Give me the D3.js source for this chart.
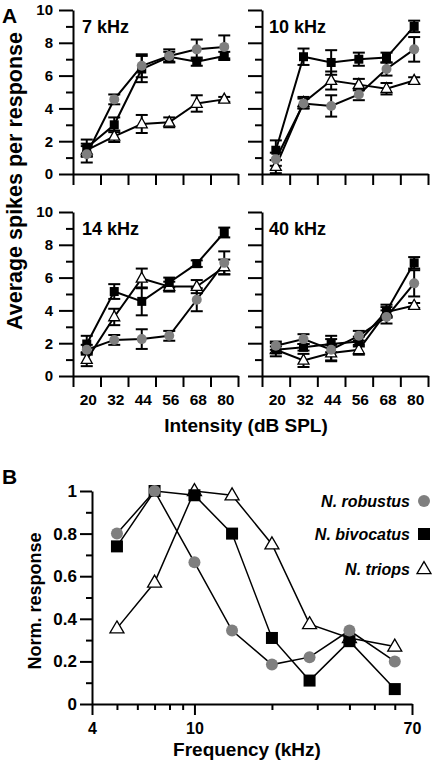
<!DOCTYPE html>
<html>
<head>
<meta charset="utf-8">
<script src="https://cdn.jsdelivr.net/npm/d3@7"></script>
<style>
  html, body { margin: 0; padding: 0; background: #fff; }
  svg { display: block; }
  text { font-family: "Liberation Sans", Arial, sans-serif; font-weight: bold; fill: #000; }
</style>
</head>
<body>
<script>
// ---------- DATA: Panel A ----------
const panelTitles = ["7 kHz", "10 kHz", "14 kHz", "40 kHz"];
const intensities = [20, 32, 44, 56, 68, 80];
const intensityBounds = [14, 26, 38, 50, 62, 74, 86];
const yTicksA = [0, 2, 4, 6, 8, 10];
const yMinorA = [1, 3, 5, 7, 9];

// per panel: 7, 10, 14, 40 kHz
const robustusMean = [
  [1.2, 4.55, 6.6, 7.2, 7.6, 7.75],
  [0.9, 4.3, 4.15, 4.85, 6.4, 7.6],
  [1.6, 2.2, 2.25, 2.45, 4.65, 6.9],
  [1.85, 2.25, 1.6, 2.45, 3.6, 5.65]
];
const robustusErr = [
  [0.5, 0.3, 0.7, 0.4, 0.6, 0.7],
  [0.4, 0.3, 0.65, 0.35, 0.4, 0.75],
  [0.3, 0.3, 0.6, 0.3, 0.7, 0.7],
  [0.25, 0.3, 0.65, 0.3, 0.4, 0.8]
];
const bivocatusMean = [
  [1.6, 3.0, 6.4, 7.15, 6.85, 7.2],
  [1.45, 7.15, 6.8, 7.0, 7.1, 9.0],
  [1.95, 5.15, 4.55, 5.7, 6.85, 8.75],
  [1.6, 1.75, 1.95, 2.1, 3.95, 6.9]
];
const bivocatusErr = [
  [0.5, 0.45, 0.8, 0.3, 0.25, 0.25],
  [0.6, 0.5, 0.75, 0.4, 0.3, 0.35],
  [0.5, 0.45, 0.85, 0.3, 0.2, 0.3],
  [0.4, 0.2, 0.5, 0.3, 0.4, 0.35]
];
const triopsMean = [
  [1.45, 2.3, 3.05, 3.15, 4.3, 4.55],
  [0.45, 4.35, 5.7, 5.45, 5.2, 5.7],
  [1.0, 3.6, 5.95, 5.45, 5.45, 6.65],
  [1.6, 0.95, 1.4, 1.6, 3.9, 4.3]
];
const triopsErr = [
  [0.4, 0.35, 0.55, 0.3, 0.5, 0.15],
  [0.4, 0.35, 0.55, 0.35, 0.35, 0.2],
  [0.4, 0.5, 0.6, 0.3, 0.4, 0.45],
  [0.2, 0.4, 0.5, 0.3, 0.3, 0.15]
];

// ---------- DATA: Panel B ----------
const frequencies = [5, 7, 10, 14, 20, 28, 40, 60];
const robustusNorm = [0.80, 1.0, 0.665, 0.345, 0.185, 0.22, 0.345, 0.20];
const bivocatusNorm = [0.74, 1.0, 0.98, 0.80, 0.31, 0.11, 0.295, 0.07];
const triopsNorm = [0.355, 0.57, 1.0, 0.98, 0.75, 0.375, 0.31, 0.27];
const speciesNames = ["N. robustus", "N. bivocatus", "N. triops"];
const yTicksB = [0, 0.2, 0.4, 0.6, 0.8, 1];
const yMinorB = [0.1, 0.3, 0.5, 0.7, 0.9];
const xMajorB = [4, 10, 70];
const xMinorB = [5, 6, 7, 8, 9, 20, 30, 40, 50, 60];

// ---------- DRAWING ----------
const W = 434, H = 762;
const GRAY = "#7f7f7f";
const svg = d3.select("body").append("svg").attr("width", W).attr("height", H);

function triPath(w, h) {
  return `M0,${-h * 0.62}L${w / 2},${h * 0.38}L${-w / 2},${h * 0.38}Z`;
}
function drawMarker(g, kind, cx, cy, big) {
  if (kind === "circle") {
    g.append("circle").attr("cx", cx).attr("cy", cy).attr("r", big ? 6 : 5).attr("fill", GRAY);
  } else if (kind === "square") {
    const s = big ? 12 : 9;
    g.append("rect").attr("x", cx - s / 2).attr("y", cy - s / 2).attr("width", s).attr("height", s).attr("fill", "#000");
  } else {
    const w = big ? 14 : 11, h = big ? 12 : 10;
    g.append("path").attr("d", triPath(w, h)).attr("transform", `translate(${cx},${cy})`)
      .attr("fill", "#fff").attr("stroke", "#000").attr("stroke-width", 1.3);
  }
}
function styleAxis(g, width) {
  g.selectAll("path.domain").attr("stroke", "#000").attr("stroke-width", width);
  g.selectAll(".tick line").attr("stroke", "#000").attr("stroke-width", width);
  g.selectAll("text").attr("font-family", '"Liberation Sans", Arial, sans-serif').attr("font-weight", "bold").attr("fill", "#000");
}

const panelBoxes = [
  { x0: 73, x1: 238, y0: 174, y1: 10 },
  { x0: 262, x1: 428, y0: 174, y1: 10 },
  { x0: 73, x1: 238, y0: 376, y1: 212 },
  { x0: 262, x1: 428, y0: 376, y1: 212 }
];

panelBoxes.forEach((b, i) => {
  const x = d3.scaleLinear().domain([14, 86]).range([b.x0, b.x1]);
  const y = d3.scaleLinear().domain([0, 10]).range([b.y0, b.y1]);
  const leftCol = (i % 2 === 0), bottomRow = (i >= 2);
  const g = svg.append("g");

  // y axis major
  const ya = g.append("g").attr("transform", `translate(${b.x0},0)`)
    .call(d3.axisLeft(y).tickValues(yTicksA).tickSize(14).tickSizeOuter(0).tickPadding(6)
      .tickFormat(leftCol ? d3.format("d") : ""));
  styleAxis(ya, 2);
  ya.selectAll("text").attr("font-size", 15);
  const ym = g.append("g").attr("transform", `translate(${b.x0},0)`)
    .call(d3.axisLeft(y).tickValues(yMinorA).tickSize(7).tickFormat(""));
  ym.select("path.domain").remove();
  styleAxis(ym, 2);

  // x axis
  const xa = g.append("g").attr("transform", `translate(0,${b.y0})`)
    .call(d3.axisBottom(x).tickValues(intensityBounds).tickSize(11).tickSizeOuter(0).tickFormat(""));
  styleAxis(xa, 2);
  if (bottomRow) {
    const xl = g.append("g").attr("transform", `translate(1,${b.y0})`)
      .call(d3.axisBottom(x).tickValues(intensities).tickSize(0).tickPadding(18).tickFormat(d3.format("d")));
    xl.select("path.domain").remove();
    styleAxis(xl, 2);
    xl.selectAll("text").attr("font-size", 15.5);
  }

  // title
  g.append("text").attr("x", b.x0 + (leftCol ? 9 : 7)).attr("y", b.y1 + 23)
    .attr("font-size", 18).text(panelTitles[i]);

  const series = [
    { kind: "triangle", m: triopsMean[i], e: triopsErr[i] },
    { kind: "square", m: bivocatusMean[i], e: bivocatusErr[i] },
    { kind: "circle", m: robustusMean[i], e: robustusErr[i] }
  ];
  const line = d3.line().x((d, j) => x(intensities[j])).y(d => y(d));
  series.forEach(s => {
    g.append("path").attr("d", line(s.m)).attr("fill", "none").attr("stroke", "#000").attr("stroke-width", 2);
  });
  series.forEach(s => {
    s.m.forEach((v, j) => {
      const cx = x(intensities[j]);
      const top = y(v + s.e[j]), bot = y(v - s.e[j]);
      g.append("line").attr("x1", cx).attr("x2", cx).attr("y1", top).attr("y2", bot).attr("stroke", "#000").attr("stroke-width", 2);
      [top, bot].forEach(yy => g.append("line").attr("x1", cx - 6).attr("x2", cx + 6).attr("y1", yy).attr("y2", yy)
        .attr("stroke", "#000").attr("stroke-width", 2));
    });
  });
  series.forEach(s => {
    s.m.forEach((v, j) => drawMarker(g, s.kind, x(intensities[j]), y(v), false));
  });
});

// Panel A labels
svg.append("text").attr("x", 2).attr("y", 23).attr("font-size", 21).text("A");
svg.append("text").attr("transform", "translate(22,181) rotate(-90)").attr("text-anchor", "middle")
  .attr("font-size", 21.5).text("Average spikes per response");
svg.append("text").attr("x", 246).attr("y", 432).attr("text-anchor", "middle")
  .attr("font-size", 19).text("Intensity (dB SPL)");

// ---------- Panel B ----------
const xB = d3.scaleLog().domain([4, 70]).range([92, 412]);
const yB = d3.scaleLinear().domain([0, 1]).range([704, 491]);
const gB = svg.append("g");

const yBa = gB.append("g").attr("transform", "translate(92,0)")
  .call(d3.axisLeft(yB).tickValues(yTicksB).tickSize(12).tickSizeOuter(0).tickPadding(3)
    .tickFormat(d => (d === 0 || d === 1) ? d3.format("d")(d) : d3.format(".1f")(d)));
styleAxis(yBa, 2);
yBa.selectAll("text").attr("font-size", 17);
const yBm = gB.append("g").attr("transform", "translate(92,0)")
  .call(d3.axisLeft(yB).tickValues(yMinorB).tickSize(6).tickFormat(""));
yBm.select("path.domain").remove();
styleAxis(yBm, 2);

const xBa = gB.append("g").attr("transform", "translate(0,704)")
  .call(d3.axisBottom(xB).tickValues(xMajorB).tickSize(11).tickSizeOuter(0).tickPadding(8).tickFormat(d3.format("d")));
styleAxis(xBa, 2);
xBa.selectAll("text").attr("font-size", 16);
const xBm = gB.append("g").attr("transform", "translate(0,704)")
  .call(d3.axisBottom(xB).tickValues(xMinorB).tickSize(6).tickFormat(""));
xBm.select("path.domain").remove();
styleAxis(xBm, 2);

const seriesB = [
  { kind: "triangle", v: triopsNorm },
  { kind: "square", v: bivocatusNorm },
  { kind: "circle", v: robustusNorm }
];
const lineB = d3.line().x((d, j) => xB(frequencies[j])).y(d => yB(d));
seriesB.forEach(s => {
  gB.append("path").attr("d", lineB(s.v)).attr("fill", "none").attr("stroke", "#000").attr("stroke-width", 1.5);
});
seriesB.forEach(s => {
  s.v.forEach((v, j) => drawMarker(gB, s.kind, xB(frequencies[j]), yB(v), true));
});

// legend
const legendKinds = ["circle", "square", "triangle"];
const legendY = [501, 534, 569];
speciesNames.forEach((n, k) => {
  gB.append("text").attr("x", 410).attr("y", legendY[k]).attr("dy", "0.35em").attr("text-anchor", "end")
    .attr("font-size", 16).attr("font-style", "italic").text(n);
  drawMarker(gB, legendKinds[k], 424, legendY[k], true);
});

svg.append("text").attr("x", 2).attr("y", 484).attr("font-size", 21).text("B");
svg.append("text").attr("transform", "translate(41,601) rotate(-90)").attr("text-anchor", "middle")
  .attr("font-size", 18).text("Norm. response");
svg.append("text").attr("x", 247).attr("y", 756).attr("text-anchor", "middle")
  .attr("font-size", 19).text("Frequency (kHz)");
</script>
</body>
</html>
